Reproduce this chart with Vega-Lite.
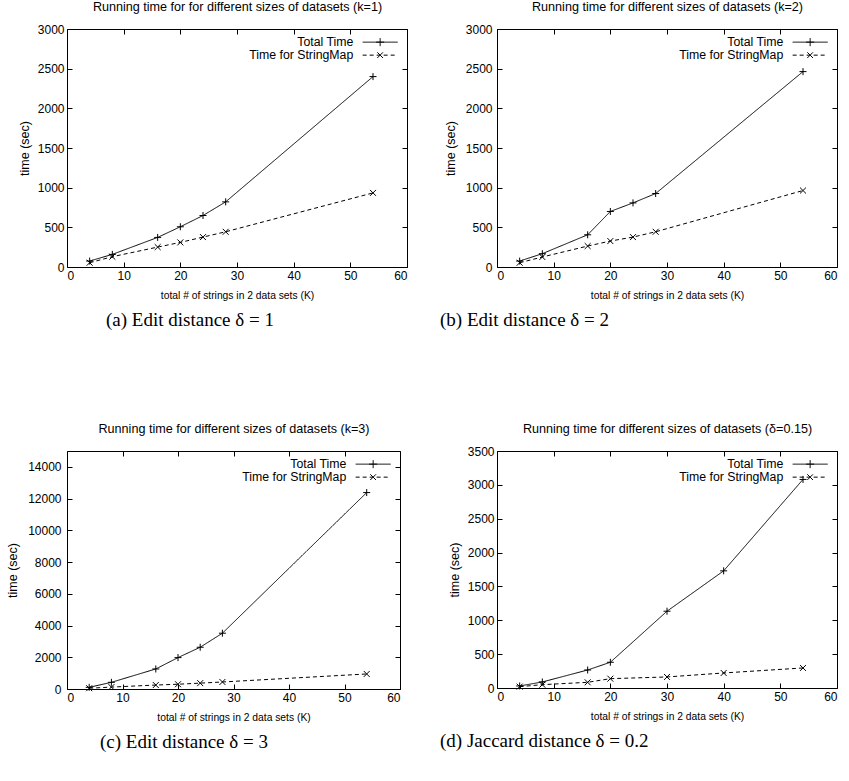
{
  "$schema": "https://vega.github.io/schema/vega-lite/v6.json",
  "padding": {"left": 6, "top": 0, "right": 0, "bottom": 0},
  "background": "white",
  "datasets": {
    "a": [
      {"size": 4, "time": 75, "series": "Total Time"},
      {"size": 8, "time": 159, "series": "Total Time"},
      {"size": 16, "time": 373, "series": "Total Time"},
      {"size": 20, "time": 507, "series": "Total Time"},
      {"size": 24, "time": 649, "series": "Total Time"},
      {"size": 28, "time": 821, "series": "Total Time"},
      {"size": 54, "time": 2400, "series": "Total Time"},
      {"size": 4, "time": 54, "series": "Time for StringMap"},
      {"size": 8, "time": 130, "series": "Time for StringMap"},
      {"size": 16, "time": 251, "series": "Time for StringMap"},
      {"size": 20, "time": 310, "series": "Time for StringMap"},
      {"size": 24, "time": 377, "series": "Time for StringMap"},
      {"size": 28, "time": 444, "series": "Time for StringMap"},
      {"size": 54, "time": 934, "series": "Time for StringMap"}
    ],
    "b": [
      {"size": 4, "time": 75, "series": "Total Time"},
      {"size": 8, "time": 168, "series": "Total Time"},
      {"size": 16, "time": 406, "series": "Total Time"},
      {"size": 20, "time": 700, "series": "Total Time"},
      {"size": 24, "time": 808, "series": "Total Time"},
      {"size": 28, "time": 926, "series": "Total Time"},
      {"size": 54, "time": 2463, "series": "Total Time"},
      {"size": 4, "time": 54, "series": "Time for StringMap"},
      {"size": 8, "time": 126, "series": "Time for StringMap"},
      {"size": 16, "time": 264, "series": "Time for StringMap"},
      {"size": 20, "time": 327, "series": "Time for StringMap"},
      {"size": 24, "time": 377, "series": "Time for StringMap"},
      {"size": 28, "time": 444, "series": "Time for StringMap"},
      {"size": 54, "time": 964, "series": "Time for StringMap"}
    ],
    "c": [
      {"size": 4, "time": 105, "series": "Total Time"},
      {"size": 8, "time": 421, "series": "Total Time"},
      {"size": 16, "time": 1263, "series": "Total Time"},
      {"size": 20, "time": 1979, "series": "Total Time"},
      {"size": 24, "time": 2632, "series": "Total Time"},
      {"size": 28, "time": 3516, "series": "Total Time"},
      {"size": 54, "time": 12380, "series": "Total Time"},
      {"size": 4, "time": 50, "series": "Time for StringMap"},
      {"size": 8, "time": 120, "series": "Time for StringMap"},
      {"size": 16, "time": 250, "series": "Time for StringMap"},
      {"size": 20, "time": 300, "series": "Time for StringMap"},
      {"size": 24, "time": 370, "series": "Time for StringMap"},
      {"size": 28, "time": 442, "series": "Time for StringMap"},
      {"size": 54, "time": 947, "series": "Time for StringMap"}
    ],
    "d": [
      {"size": 4, "time": 30, "series": "Total Time"},
      {"size": 8, "time": 89, "series": "Total Time"},
      {"size": 16, "time": 266, "series": "Total Time"},
      {"size": 20, "time": 380, "series": "Total Time"},
      {"size": 30, "time": 1134, "series": "Total Time"},
      {"size": 40, "time": 1730, "series": "Total Time"},
      {"size": 54, "time": 3080, "series": "Total Time"},
      {"size": 4, "time": 20, "series": "Time for StringMap"},
      {"size": 8, "time": 49, "series": "Time for StringMap"},
      {"size": 16, "time": 84, "series": "Time for StringMap"},
      {"size": 20, "time": 138, "series": "Time for StringMap"},
      {"size": 30, "time": 163, "series": "Time for StringMap"},
      {"size": 40, "time": 222, "series": "Time for StringMap"},
      {"size": 54, "time": 296, "series": "Time for StringMap"}
    ]
  },
  "resolve": {"scale": {"strokeDash": "independent"}, "legend": {"strokeDash": "independent"}},
  "columns": 2,
  "align": "none",
  "spacing": {"row": 91, "column": 31},
  "concat": [
    {
      "width": 340, "height": 238,
      "data": {"name": "a"},
      "title": {"text": "(a) Edit distance δ = 1", "orient": "bottom", "anchor": "start", "frame": "group", "dx": 39, "offset": 11},
      "layer": [
        {
          "mark": {"type": "line", "color": "black", "strokeWidth": 1},
          "encoding": {
            "x": {"field": "size", "type": "quantitative", "scale": {"domain": [0, 60], "nice": false}, "axis": {"orient": "bottom", "title": "total # of strings in 2 data sets (K)", "values": [0, 10, 20, 30, 40, 50, 60]}},
            "y": {"field": "time", "type": "quantitative", "scale": {"domain": [0, 3000], "nice": false}, "axis": {"orient": "left", "title": "time (sec)", "labelPadding": 8, "titlePadding": 6, "values": [0, 500, 1000, 1500, 2000, 2500, 3000]}},
            "strokeDash": {"field": "series", "type": "nominal", "scale": {"domain": ["Total Time", "Time for StringMap"], "range": [[1, 0], [4, 3]]},
              "legend": {"orient": "top-right", "title": null, "offset": 7, "padding": 0, "symbolSize": 100, "symbolStrokeColor": "black", "symbolStrokeWidth": 1, "symbolFillColor": "transparent", "labelFont": "Liberation Sans", "labelFontSize": 12.3, "labelColor": "black", "labelAlign": "right", "labelOffset": -33, "rowPadding": 0,
                "encode": {"symbols": {"update": {"shape": {"signal": "datum.value === 'Total Time' ? 'M-3.5,0H3.5M0,-0.8V0.8M-0.8,0H0.8' : 'M-3.5,0H3.5M0,0L0.7,0.7M0,0L-0.7,0.7M0,0L0.7,-0.7M0,0L-0.7,-0.7'"}}}}}}
          }
        },
        {
          "transform": [{"filter": "datum.series === 'Total Time'"}],
          "mark": {"type": "point", "filled": false, "stroke": "black", "strokeWidth": 1, "size": 49, "opacity": 1, "shape": "M-1,0H1M0,-1V1"},
          "encoding": {
            "x": {"field": "size", "type": "quantitative", "axis": {"orient": "top", "labels": false, "title": "Running time for for different sizes of datasets (k=1)", "values": [0, 10, 20, 30, 40, 50, 60]}},
            "y": {"field": "time", "type": "quantitative", "axis": {"orient": "right", "labels": false, "title": null, "values": [0, 500, 1000, 1500, 2000, 2500, 3000]}}
          }
        },
        {
          "transform": [{"filter": "datum.series === 'Time for StringMap'"}],
          "mark": {"type": "point", "filled": false, "stroke": "black", "strokeWidth": 1, "size": 49, "opacity": 1, "shape": "M-0.85,-0.85L0.85,0.85M-0.85,0.85L0.85,-0.85"},
          "encoding": {
            "x": {"field": "size", "type": "quantitative", "axis": null},
            "y": {"field": "time", "type": "quantitative", "axis": null}
          }
        }
      ],
      "resolve": {"axis": {"x": "independent", "y": "independent"}}
    },
    {
      "width": 340, "height": 238,
      "data": {"name": "b"},
      "title": {"text": "(b) Edit distance δ = 2", "orient": "bottom", "anchor": "start", "frame": "group", "dx": -57, "offset": 11},
      "layer": [
        {
          "mark": {"type": "line", "color": "black", "strokeWidth": 1},
          "encoding": {
            "x": {"field": "size", "type": "quantitative", "scale": {"domain": [0, 60], "nice": false}, "axis": {"orient": "bottom", "title": "total # of strings in 2 data sets (K)", "values": [0, 10, 20, 30, 40, 50, 60]}},
            "y": {"field": "time", "type": "quantitative", "scale": {"domain": [0, 3000], "nice": false}, "axis": {"orient": "left", "title": "time (sec)", "labelPadding": 10, "titlePadding": 8, "values": [0, 500, 1000, 1500, 2000, 2500, 3000]}},
            "strokeDash": {"field": "series", "type": "nominal", "scale": {"domain": ["Total Time", "Time for StringMap"], "range": [[1, 0], [4, 3]]},
              "legend": {"orient": "top-right", "title": null, "offset": 7, "padding": 0, "symbolSize": 100, "symbolStrokeColor": "black", "symbolStrokeWidth": 1, "symbolFillColor": "transparent", "labelFont": "Liberation Sans", "labelFontSize": 12.3, "labelColor": "black", "labelAlign": "right", "labelOffset": -33, "rowPadding": 0,
                "encode": {"symbols": {"update": {"shape": {"signal": "datum.value === 'Total Time' ? 'M-3.5,0H3.5M0,-0.8V0.8M-0.8,0H0.8' : 'M-3.5,0H3.5M0,0L0.7,0.7M0,0L-0.7,0.7M0,0L0.7,-0.7M0,0L-0.7,-0.7'"}}}}}}
          }
        },
        {
          "transform": [{"filter": "datum.series === 'Total Time'"}],
          "mark": {"type": "point", "filled": false, "stroke": "black", "strokeWidth": 1, "size": 49, "opacity": 1, "shape": "M-1,0H1M0,-1V1"},
          "encoding": {
            "x": {"field": "size", "type": "quantitative", "axis": {"orient": "top", "labels": false, "title": "Running time for different sizes of datasets (k=2)", "values": [0, 10, 20, 30, 40, 50, 60]}},
            "y": {"field": "time", "type": "quantitative", "axis": {"orient": "right", "labels": false, "title": null, "values": [0, 500, 1000, 1500, 2000, 2500, 3000]}}
          }
        },
        {
          "transform": [{"filter": "datum.series === 'Time for StringMap'"}],
          "mark": {"type": "point", "filled": false, "stroke": "black", "strokeWidth": 1, "size": 49, "opacity": 1, "shape": "M-0.85,-0.85L0.85,0.85M-0.85,0.85L0.85,-0.85"},
          "encoding": {
            "x": {"field": "size", "type": "quantitative", "axis": null},
            "y": {"field": "time", "type": "quantitative", "axis": null}
          }
        }
      ],
      "resolve": {"axis": {"x": "independent", "y": "independent"}}
    },
    {
      "width": 333, "height": 238,
      "data": {"name": "c"},
      "title": {"text": "(c) Edit distance δ = 3", "orient": "bottom", "anchor": "start", "frame": "group", "dx": 33, "offset": 11},
      "layer": [
        {
          "mark": {"type": "line", "color": "black", "strokeWidth": 1},
          "encoding": {
            "x": {"field": "size", "type": "quantitative", "scale": {"domain": [0, 60], "nice": false}, "axis": {"orient": "bottom", "title": "total # of strings in 2 data sets (K)", "values": [0, 10, 20, 30, 40, 50, 60]}},
            "y": {"field": "time", "type": "quantitative", "scale": {"domain": [0, 15000], "nice": false}, "axis": {"orient": "left", "title": "time (sec)", "labelPadding": 11, "titlePadding": 8, "values": [0, 2000, 4000, 6000, 8000, 10000, 12000, 14000]}},
            "strokeDash": {"field": "series", "type": "nominal", "scale": {"domain": ["Total Time", "Time for StringMap"], "range": [[1, 0], [4, 3]]},
              "legend": {"orient": "top-right", "title": null, "offset": 7, "padding": 0, "symbolSize": 100, "symbolStrokeColor": "black", "symbolStrokeWidth": 1, "symbolFillColor": "transparent", "labelFont": "Liberation Sans", "labelFontSize": 12.3, "labelColor": "black", "labelAlign": "right", "labelOffset": -33, "rowPadding": 0,
                "encode": {"symbols": {"update": {"shape": {"signal": "datum.value === 'Total Time' ? 'M-3.5,0H3.5M0,-0.8V0.8M-0.8,0H0.8' : 'M-3.5,0H3.5M0,0L0.7,0.7M0,0L-0.7,0.7M0,0L0.7,-0.7M0,0L-0.7,-0.7'"}}}}}}
          }
        },
        {
          "transform": [{"filter": "datum.series === 'Total Time'"}],
          "mark": {"type": "point", "filled": false, "stroke": "black", "strokeWidth": 1, "size": 49, "opacity": 1, "shape": "M-1,0H1M0,-1V1"},
          "encoding": {
            "x": {"field": "size", "type": "quantitative", "axis": {"orient": "top", "labels": false, "title": "Running time for different sizes of datasets (k=3)", "values": [0, 10, 20, 30, 40, 50, 60]}},
            "y": {"field": "time", "type": "quantitative", "axis": {"orient": "right", "labels": false, "title": null, "values": [0, 2000, 4000, 6000, 8000, 10000, 12000, 14000]}}
          }
        },
        {
          "transform": [{"filter": "datum.series === 'Time for StringMap'"}],
          "mark": {"type": "point", "filled": false, "stroke": "black", "strokeWidth": 1, "size": 49, "opacity": 1, "shape": "M-0.85,-0.85L0.85,0.85M-0.85,0.85L0.85,-0.85"},
          "encoding": {
            "x": {"field": "size", "type": "quantitative", "axis": null},
            "y": {"field": "time", "type": "quantitative", "axis": null}
          }
        }
      ],
      "resolve": {"axis": {"x": "independent", "y": "independent"}}
    },
    {
      "width": 340, "height": 237,
      "data": {"name": "d"},
      "title": {"text": "(d) Jaccard distance δ = 0.2", "orient": "bottom", "anchor": "start", "frame": "group", "dx": -57, "offset": 11},
      "layer": [
        {
          "mark": {"type": "line", "color": "black", "strokeWidth": 1},
          "encoding": {
            "x": {"field": "size", "type": "quantitative", "scale": {"domain": [0, 60], "nice": false}, "axis": {"orient": "bottom", "title": "total # of strings in 2 data sets (K)", "values": [0, 10, 20, 30, 40, 50, 60]}},
            "y": {"field": "time", "type": "quantitative", "scale": {"domain": [0, 3500], "nice": false}, "axis": {"orient": "left", "title": "time (sec)", "labelPadding": 8, "titlePadding": 6, "values": [0, 500, 1000, 1500, 2000, 2500, 3000, 3500]}},
            "strokeDash": {"field": "series", "type": "nominal", "scale": {"domain": ["Total Time", "Time for StringMap"], "range": [[1, 0], [4, 3]]},
              "legend": {"orient": "top-right", "title": null, "offset": 7, "padding": 0, "symbolSize": 100, "symbolStrokeColor": "black", "symbolStrokeWidth": 1, "symbolFillColor": "transparent", "labelFont": "Liberation Sans", "labelFontSize": 12.3, "labelColor": "black", "labelAlign": "right", "labelOffset": -33, "rowPadding": 0,
                "encode": {"symbols": {"update": {"shape": {"signal": "datum.value === 'Total Time' ? 'M-3.5,0H3.5M0,-0.8V0.8M-0.8,0H0.8' : 'M-3.5,0H3.5M0,0L0.7,0.7M0,0L-0.7,0.7M0,0L0.7,-0.7M0,0L-0.7,-0.7'"}}}}}}
          }
        },
        {
          "transform": [{"filter": "datum.series === 'Total Time'"}],
          "mark": {"type": "point", "filled": false, "stroke": "black", "strokeWidth": 1, "size": 49, "opacity": 1, "shape": "M-1,0H1M0,-1V1"},
          "encoding": {
            "x": {"field": "size", "type": "quantitative", "axis": {"orient": "top", "labels": false, "title": "Running time for different sizes of datasets (δ=0.15)", "values": [0, 10, 20, 30, 40, 50, 60]}},
            "y": {"field": "time", "type": "quantitative", "axis": {"orient": "right", "labels": false, "title": null, "values": [0, 500, 1000, 1500, 2000, 2500, 3000, 3500]}}
          }
        },
        {
          "transform": [{"filter": "datum.series === 'Time for StringMap'"}],
          "mark": {"type": "point", "filled": false, "stroke": "black", "strokeWidth": 1, "size": 49, "opacity": 1, "shape": "M-0.85,-0.85L0.85,0.85M-0.85,0.85L0.85,-0.85"},
          "encoding": {
            "x": {"field": "size", "type": "quantitative", "axis": null},
            "y": {"field": "time", "type": "quantitative", "axis": null}
          }
        }
      ],
      "resolve": {"axis": {"x": "independent", "y": "independent"}}
    }
  ],
  "config": {
    "font": "Liberation Sans",
    "view": {"stroke": "black", "strokeWidth": 1},
    "axis": {
      "domain": false, "grid": false, "format": "d",
      "ticks": true, "tickColor": "black", "tickSize": -5, "tickWidth": 1,
      "labelFont": "Liberation Sans", "labelFontSize": 12, "labelColor": "black", "labelPadding": 8,
      "titleFont": "Liberation Sans", "titleFontWeight": "normal", "titleColor": "black", "titleFontSize": 10.3, "titlePadding": 9
    },
    "axisLeft": {"titleFontSize": 12.5},
    "axisTop": {"titleFontSize": 12.6, "titlePadding": 15},
    "title": {"font": "Liberation Serif", "fontSize": 19, "fontWeight": "normal", "color": "black"}
  }
}
